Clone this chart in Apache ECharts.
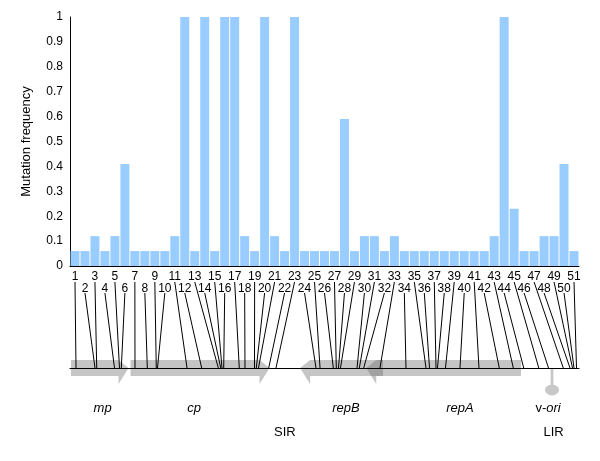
<!DOCTYPE html>
<html><head><meta charset="utf-8">
<script src="https://cdn.jsdelivr.net/npm/echarts@6/dist/echarts.min.js"></script>
<style>html,body{margin:0;padding:0;background:#fff}#c{width:600px;height:461px}</style>
</head><body><div id="c"></div>
<script>
// ---- data ----
const sites = ['1','2','3','4','5','6','7','8','9','10','11','12','13','14','15','16','17','18','19','20','21','22','23','24','25','26','27','28','29','30','31','32','33','34','35','36','37','38','39','40','41','42','43','44','45','46','47','48','49','50','51'];
const freq = [0.06,0.06,0.12,0.06,0.12,0.41,0.06,0.06,0.06,0.06,0.12,1,0.06,1,0.06,1,1,0.12,0.06,1,0.12,0.06,1,0.06,0.06,0.06,0.06,0.59,0.06,0.12,0.12,0.06,0.12,0.06,0.06,0.06,0.06,0.06,0.06,0.06,0.06,0.06,0.12,1,0.23,0.06,0.06,0.12,0.12,0.41,0.06];
// position of each site on the genome map (% of map length)
const genomePos = [1.18,4.91,5.25,8.74,9.72,10.08,12.77,15.19,16.95,17.19,22.99,25.87,29.14,29.61,29.86,30.20,33.26,34.38,36.25,36.60,37.03,39.04,40.47,48.33,49.12,51.73,52.32,52.75,53.14,56.39,56.84,57.70,60.90,66.01,69.94,70.63,71.91,72.20,73.77,76.62,80.35,84.34,87.09,89.14,92.10,94.01,96.91,98.23,98.72,99.02,99.51];
const geneNames = ['mp','cp','repB','repA'];
const geneStart = [0.2,11.9,61.5,88.6];
const geneEnd = [11.5,39.2,45.2,58.2];
const geneLabelPos = [6.4,24.4,54.2,76.6];
const oriName = 'v-ori';
const oriPos = [94.7];
const regionNames = ['SIR','LIR'];
const regionPos = [42.2,95.0];
const yTicks = [0,0.1,0.2,0.3,0.4,0.5,0.6,0.7,0.8,0.9,1];

// ---- chart ----
const FONT = 'Liberation Sans, Arial, sans-serif';
const chart = echarts.init(document.getElementById('c'), null, {renderer:'canvas'});
const nSites = sites.length;
const GREY = 'rgba(110,110,110,0.4)';

const connectorData = sites.map((s,i)=>[(i+0.5)/nSites*100, genomePos[i], i%2]);
const geneData = geneNames.map((n,i)=>[geneStart[i], geneEnd[i], geneLabelPos[i]]);

const option = {
  animation:false,
  backgroundColor:'#fff',
  grid:[
    {left:70,right:21,top:17,bottom:195},
    {left:70,right:21,top:280,bottom:53}
  ],
  xAxis:[
    {type:'category',gridIndex:0,data:sites,
     axisLine:{lineStyle:{color:'#000',width:1}},axisTick:{show:false},
     axisLabel:{interval:0,margin:5,color:'#000',fontSize:12,fontFamily:FONT,lineHeight:12,verticalAlign:'top',
       formatter:(v,i)=> i%2===0 ? v : '\n'+v}},
    {type:'value',gridIndex:1,min:0,max:100,z:5,
     axisLine:{onZero:true,lineStyle:{color:'#000',width:1}},axisTick:{show:false},axisLabel:{show:false},splitLine:{show:false}}
  ],
  yAxis:[
    {type:'value',gridIndex:0,min:0,max:1,interval:0.1,
     name:'Mutation frequency',nameLocation:'middle',nameGap:37,
     nameTextStyle:{color:'#000',fontSize:13,fontFamily:FONT},
     axisLine:{show:true,lineStyle:{color:'#000',width:1}},axisTick:{show:false},
     splitLine:{show:false},
     axisLabel:{color:'#000',fontSize:12,fontFamily:FONT,margin:7,
       formatter:v=>{const t=yTicks.find(x=>Math.abs(x-v)<1e-6); return t===undefined?'':String(t);}}},
    {type:'value',gridIndex:1,min:-40,max:88,show:false,splitLine:{show:false}}
  ],
  series:[
    {type:'bar',xAxisIndex:0,yAxisIndex:0,data:freq,barCategoryGap:'10%',
     itemStyle:{color:'#99ccff'}},
    {type:'custom',xAxisIndex:1,yAxisIndex:1,data:geneData,z:1,
     renderItem:(params,api)=>{
       const s=api.coord([api.value(0),0]), t=api.coord([api.value(1),0]);
       const by=s[1]; const dir=t[0]>s[0]?1:-1; const head=10;
       const base=t[0]-dir*head;
       const pts=[[s[0],by-8],[base,by-8],[t[0],by],[base,by+16],[base,by+8],[s[0],by+8]];
       const lp=api.coord([api.value(2),0]);
       return {type:'group',children:[
         {type:'polygon',shape:{points:pts},style:{fill:GREY}},
         {type:'text',x:lp[0],y:by+40,style:{text:geneNames[params.dataIndex],fill:'#000',font:'italic 13px '+FONT,align:'center',verticalAlign:'middle'}}
       ]};
     }},
    {type:'custom',xAxisIndex:1,yAxisIndex:1,data:oriPos.map(p=>[p]),z:1,
     renderItem:(params,api)=>{
       const p=api.coord([api.value(0),0]);
       return {type:'group',children:[
         {type:'rect',shape:{x:p[0]-1.4,y:p[1],width:2.8,height:18},style:{fill:'#c8c8c8'}},
         {type:'circle',x:p[0],y:p[1]+22,scaleY:0.78,shape:{cx:0,cy:0,r:7},style:{fill:'#c8c8c8'}},
         {type:'text',x:p[0]-4,y:p[1]+40,style:{text:'{n|v-}{i|ori}',rich:{n:{font:'13px '+FONT,fill:'#000'},i:{font:'italic 13px '+FONT,fill:'#000'}},align:'center',verticalAlign:'middle'}}
       ]};
     }},
    {type:'custom',xAxisIndex:1,yAxisIndex:1,data:regionPos.map((p,i)=>[p,i]),z:1,
     renderItem:(params,api)=>{
       const p=api.coord([api.value(0),0]);
       return {type:'text',x:p[0],y:p[1]+64,style:{text:regionNames[params.dataIndex],fill:'#000',font:'13px '+FONT,align:'center',verticalAlign:'middle'}};
     }},
    {type:'custom',xAxisIndex:1,yAxisIndex:1,data:connectorData,z:4,
     renderItem:(params,api)=>{
       const even=api.value(2)===1;
       const p0=api.coord([api.value(0), even?75:86]);
       const p1=api.coord([api.value(1),0]);
       return {type:'line',shape:{x1:p0[0],y1:p0[1],x2:p1[0],y2:p1[1]},style:{stroke:'#000',lineWidth:1}};
     }}
  ]
};
chart.setOption(option);
</script>
</body></html>
